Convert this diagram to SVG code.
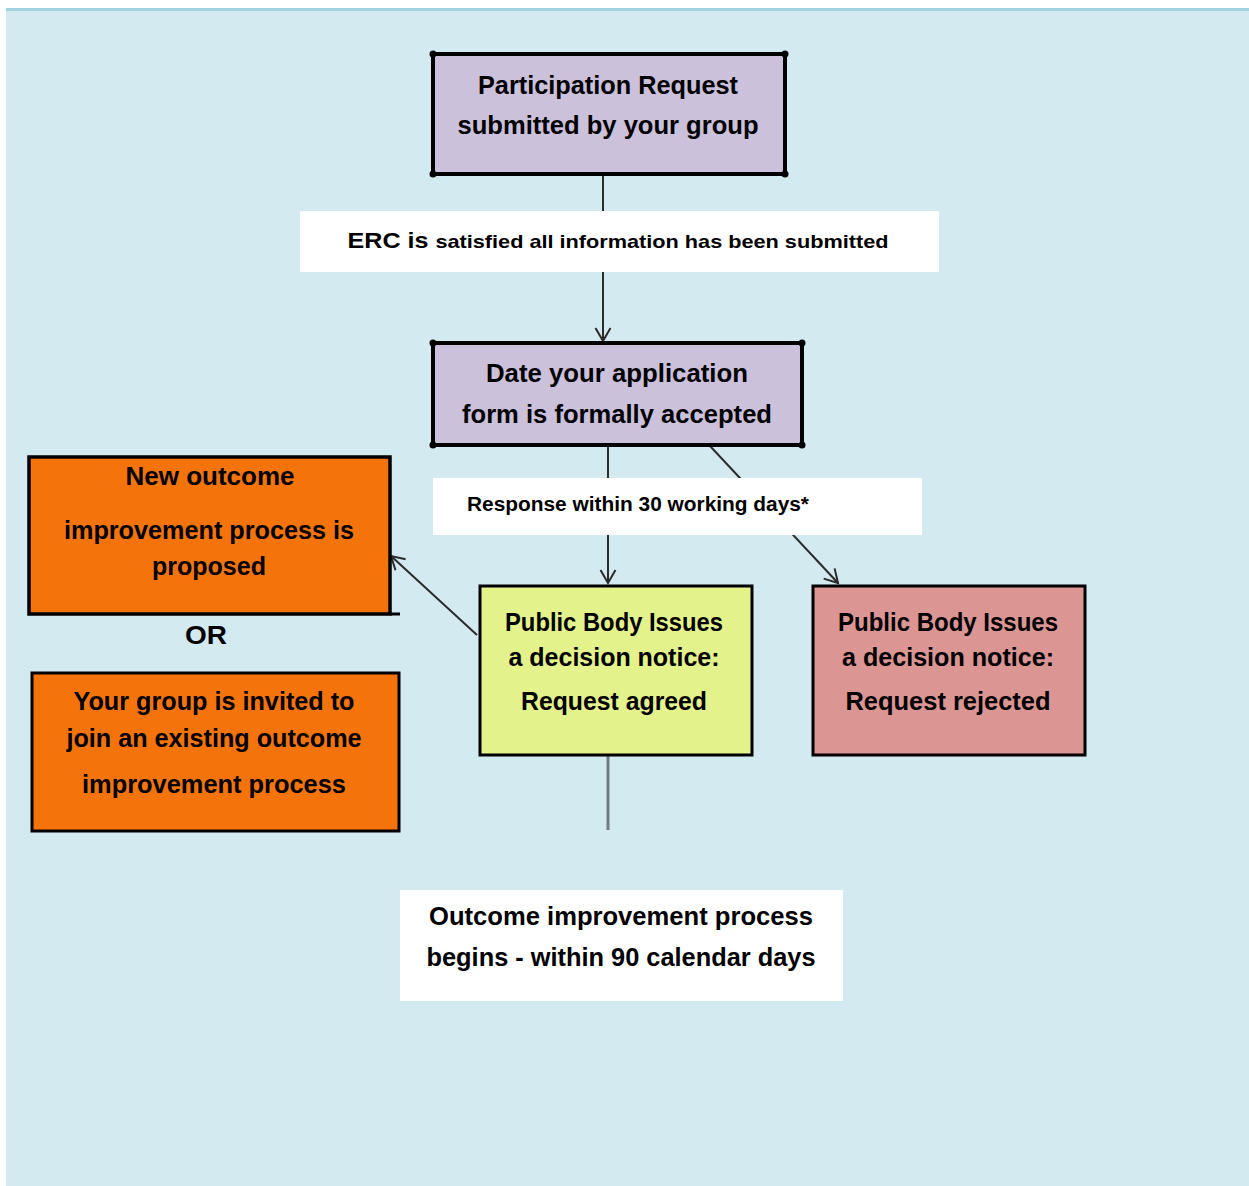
<svg xmlns="http://www.w3.org/2000/svg" width="1249" height="1186" viewBox="0 0 1249 1186">
<defs>
<style>
.t{font-family:"Liberation Sans",Arial,sans-serif;font-weight:700;fill:#000;text-anchor:middle}
.b{font-size:25px}
.box{stroke:#000;stroke-width:4}
.c{stroke:#2b2b2b;stroke-width:2;fill:none}
.lbl{fill:#fff}
</style>
<marker id="ah" markerWidth="18" markerHeight="18" refX="15" refY="9" orient="auto" markerUnits="userSpaceOnUse">
<path d="M2,1.5 L15,9 L2,16.5" fill="none" stroke="#2b2b2b" stroke-width="2"/>
</marker>
</defs>
<rect x="0" y="0" width="1249" height="1186" fill="#fff"/>
<rect x="6" y="9" width="1243" height="1177" fill="#d3eaf1"/>
<rect x="6" y="8" width="1243" height="3" fill="#a2d2de"/>

<g id="connectors">
<line class="c" x1="603" y1="175" x2="603" y2="212"/>
<line class="c" x1="603" y1="272" x2="603" y2="341" marker-end="url(#ah)"/>
<line class="c" x1="608" y1="446" x2="608" y2="583" marker-end="url(#ah)"/>
<line class="c" x1="710" y1="446" x2="838" y2="583" marker-end="url(#ah)"/>
<line class="c" x1="477" y1="635" x2="391" y2="556" stroke="#444" marker-end="url(#ah)"/>
<line x1="608" y1="755" x2="608" y2="830" stroke="#6e7d85" stroke-width="3"/>
</g>

<g id="n-participation">
<rect class="box" x="433" y="54" width="352" height="120" fill="#cbc1db"/>
<circle cx="433" cy="54" r="3.5"/><circle cx="785" cy="54" r="3.5"/><circle cx="433" cy="174" r="3.5"/><circle cx="785" cy="174" r="3.5"/>
<text class="t b" x="608" y="94" textLength="260" lengthAdjust="spacingAndGlyphs">Participation Request</text>
<text class="t b" x="608" y="134" textLength="301" lengthAdjust="spacingAndGlyphs">submitted by your group</text>
</g>

<g id="n-erc">
<rect class="lbl" x="300" y="211" width="639" height="61"/>
<text class="t" x="618" y="248" textLength="541" lengthAdjust="spacingAndGlyphs"><tspan font-size="22px">ERC is </tspan><tspan font-size="19px">satisfied all information has been submitted</tspan></text>
</g>

<g id="n-date">
<rect class="box" x="433" y="343" width="369" height="102" fill="#cbc1db"/>
<circle cx="433" cy="343" r="3.5"/><circle cx="802" cy="343" r="3.5"/><circle cx="433" cy="445" r="3.5"/><circle cx="802" cy="445" r="3.5"/>
<text class="t b" x="617" y="382" textLength="262" lengthAdjust="spacingAndGlyphs">Date your application</text>
<text class="t b" x="617" y="423" textLength="310" lengthAdjust="spacingAndGlyphs">form is formally accepted</text>
</g>

<g id="n-response">
<rect class="lbl" x="433" y="478" width="489" height="57"/>
<text class="t" x="638" y="511" font-size="20px" textLength="342" lengthAdjust="spacingAndGlyphs">Response within 30 working days*</text>
</g>

<g id="n-agreed">
<rect x="480" y="586" width="272" height="169" fill="#e4f28c" stroke="#000" stroke-width="3"/>
<text class="t b" x="614" y="631" textLength="218" lengthAdjust="spacingAndGlyphs">Public Body Issues</text>
<text class="t b" x="614" y="666" textLength="211" lengthAdjust="spacingAndGlyphs">a decision notice:</text>
<text class="t b" x="614" y="710" textLength="186" lengthAdjust="spacingAndGlyphs">Request agreed</text>
</g>

<g id="n-rejected">
<rect x="813" y="586" width="272" height="169" fill="#db9593" stroke="#000" stroke-width="3"/>
<text class="t b" x="948" y="631" textLength="220" lengthAdjust="spacingAndGlyphs">Public Body Issues</text>
<text class="t b" x="948" y="666" textLength="212" lengthAdjust="spacingAndGlyphs">a decision notice:</text>
<text class="t b" x="948" y="710" textLength="205" lengthAdjust="spacingAndGlyphs">Request rejected</text>
</g>

<g id="n-new">
<rect x="29" y="457" width="361" height="157" fill="#f4740b" stroke="#000" stroke-width="3.5"/>
<line x1="390" y1="614" x2="400" y2="614" stroke="#000" stroke-width="3"/>
<text class="t b" x="210" y="485" textLength="169" lengthAdjust="spacingAndGlyphs">New outcome</text>
<text class="t b" x="209" y="539" textLength="290" lengthAdjust="spacingAndGlyphs">improvement process is</text>
<text class="t b" x="209" y="575" textLength="114" lengthAdjust="spacingAndGlyphs">proposed</text>
</g>

<g id="n-or">
<text class="t" x="206" y="644" font-size="25px" textLength="42" lengthAdjust="spacingAndGlyphs">OR</text>
</g>

<g id="n-join">
<rect x="32" y="673" width="367" height="158" fill="#f4740b" stroke="#000" stroke-width="3"/>
<text class="t b" x="214" y="710" textLength="281" lengthAdjust="spacingAndGlyphs">Your group is invited to</text>
<text class="t b" x="214" y="747" textLength="295" lengthAdjust="spacingAndGlyphs">join an existing outcome</text>
<text class="t b" x="214" y="793" textLength="264" lengthAdjust="spacingAndGlyphs">improvement process</text>
</g>

<g id="n-outcome">
<rect class="lbl" x="400" y="890" width="443" height="111"/>
<text class="t b" x="621" y="925" textLength="384" lengthAdjust="spacingAndGlyphs">Outcome improvement process</text>
<text class="t b" x="621" y="966" textLength="389" lengthAdjust="spacingAndGlyphs">begins - within 90 calendar days</text>
</g>
</svg>
